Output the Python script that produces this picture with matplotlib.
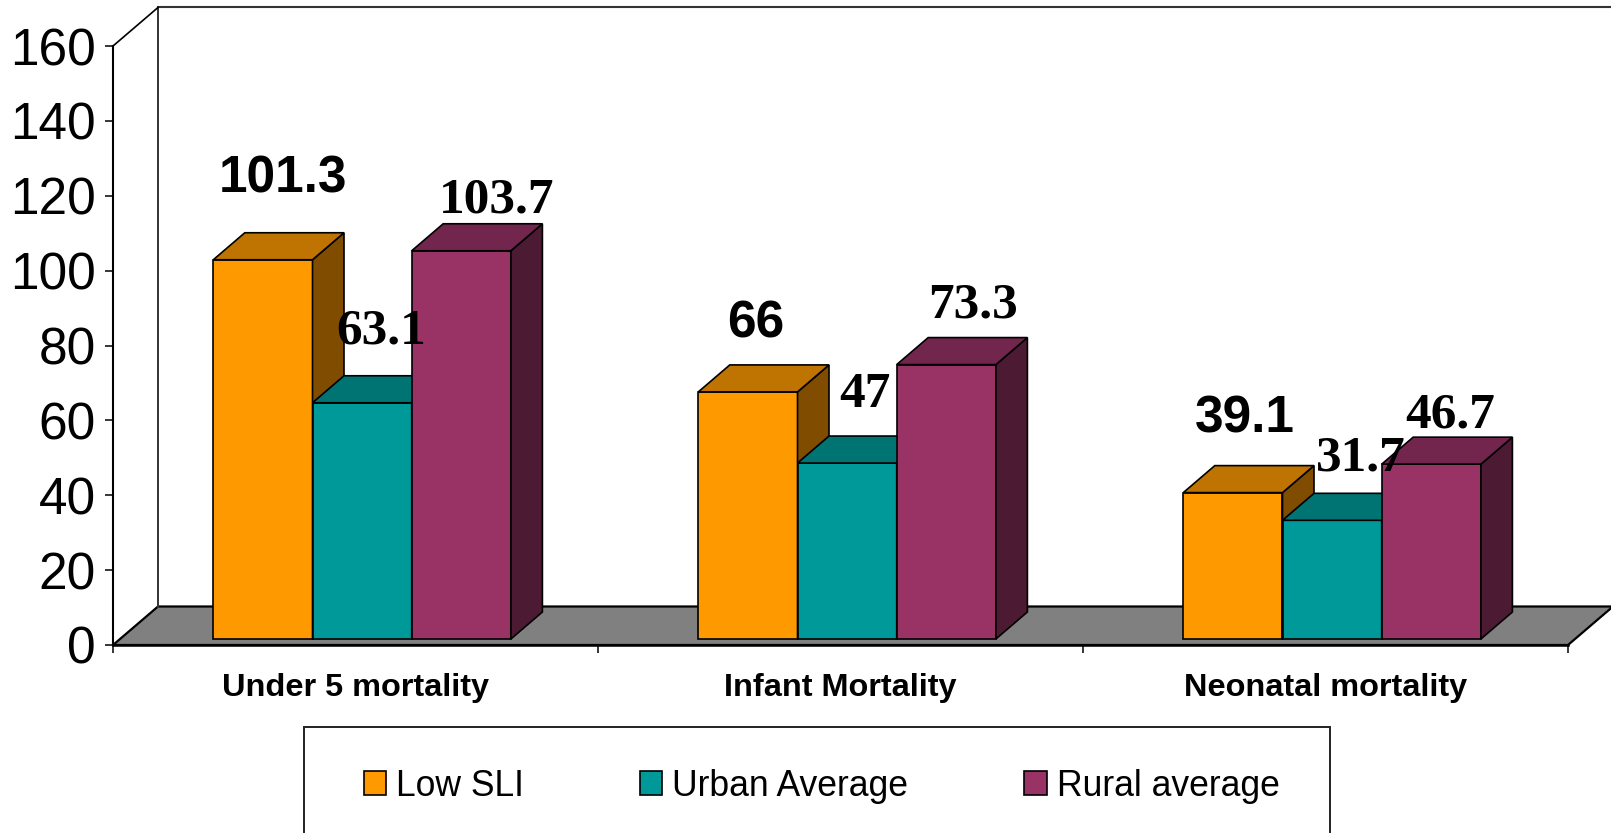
import matplotlib
matplotlib.use('Agg')
import matplotlib.pyplot as plt
from matplotlib.patches import Patch, Rectangle

categories = ['Under 5 mortality', 'Infant Mortality', 'Neonatal mortality']
series_names = ['Low SLI', 'Urban Average', 'Rural average']
low_sli = [101.3, 66, 39.1]
urban_avg = [63.1, 47, 31.7]
rural_avg = [103.7, 73.3, 46.7]
y_ticks = [0, 20, 40, 60, 80, 100, 120, 140, 160]

front = ['#FF9900', '#009999', '#993366']
top = ['#BF7300', '#007373', '#73264D']
side = ['#7F4C00', '#004D4D', '#4D1A33']

# label placement in pixels from the front top centre of each bar
label_dx = [[20, 19, 35], [8, 18, 26.5], [12, 29, 19]]
label_dy = [[67, 59, 38], [54, 56, 47], [60, 50, 37]]
label_bold = [True, False, False]

W, H = 1611, 833
fig = plt.figure(figsize=(W / 100, H / 100), dpi=100)
ax = fig.add_axes([113 / W, 1 - 645 / H, 1455 / W, 599 / H])
ax.set_xlim(0, 3)
ax.set_ylim(0, 160)

# pixels to data units
px_x = 3 / 1455
px_y = 160 / 599

wall_dx, wall_dy = 45 * px_x, 38.5 * px_y
bar_dx, bar_dy = 31.5 * px_x, 27 * px_y
shift_x, shift_y = 6.6 * px_x, 6 * px_y
bar_w = 99.2 * px_x

# walls and floor
ax.fill([0, wall_dx, 3 + wall_dx, 3], [0, wall_dy, wall_dy, 0], fc='#808080', ec='black',
        lw=1.6, clip_on=False, zorder=1)
ax.plot([wall_dx, wall_dx], [160 + wall_dy, wall_dy], c='#333333', lw=1.4, clip_on=False, zorder=1)
ax.plot([wall_dx, 3 + wall_dx], [160 + wall_dy] * 2, c='#333333', lw=1.5, clip_on=False, zorder=1)
ax.plot([0, wall_dx], [160, 160 + wall_dy], c='black', lw=1.2, clip_on=False, zorder=1)

all_series = [low_sli, urban_avg, rural_avg]
z = 2
for i in range(len(categories)):
    for j, vals in enumerate(all_series):
        v = vals[i]
        x0 = i + 0.5 + (j - 1.5) * bar_w + shift_x
        x1 = x0 + bar_w
        y1 = v + shift_y
        ax.bar(x0, v, bar_w, bottom=shift_y, align='edge', color=front[j], edgecolor='black',
               lw=1.2, clip_on=False, zorder=z)
        ax.fill([x1, x1 + bar_dx, x1 + bar_dx, x1],
                [shift_y, shift_y + bar_dy, y1 + bar_dy, y1],
                fc=side[j], ec='black', lw=1.2, clip_on=False, zorder=z)
        ax.fill([x0, x0 + bar_dx, x1 + bar_dx, x1],
                [y1, y1 + bar_dy, y1 + bar_dy, y1],
                fc=top[j], ec='black', lw=1.2, clip_on=False, zorder=z)
        z += 1
        fam = 'Liberation Sans' if label_bold[j] else 'Liberation Serif'
        ax.annotate(str(v), (x0 + bar_w / 2, y1), xytext=(label_dx[i][j], label_dy[i][j]),
                    textcoords='offset pixels', ha='center', va='baseline', family=fam,
                    weight='bold', fontsize=37, color='black', zorder=50, annotation_clip=False)

for s in ['top', 'right']:
    ax.spines[s].set_visible(False)
ax.spines['left'].set_linewidth(1.5)
ax.spines['bottom'].set_linewidth(1.8)
ax.spines['bottom'].set_zorder(40)
ax.patch.set_alpha(0)

ax.set_yticks(y_ticks)
ax.tick_params(axis='y', length=6, width=1.1, pad=6.5)
for t in ax.get_yticklabels():
    t.set_family('Liberation Sans')
    t.set_fontsize(37)

ax.set_xticks([0, 1, 2, 3])
ax.set_xticklabels([])
ax.tick_params(axis='x', which='major', length=6, width=1.1)
ax.set_xticks([0.5, 1.5, 2.5], minor=True)
ax.set_xticklabels(categories, minor=True, family='Liberation Sans', weight='bold', fontsize=23.4)
ax.tick_params(axis='x', which='minor', length=0, pad=20.5)

# legend box runs off the bottom of the figure
fig.add_artist(Rectangle((304 / W, -0.05), 1026 / W, 1 - 727 / H + 0.05, transform=fig.transFigure,
                         fc='white', ec='#222222', lw=1.4))
handles = [Patch(fc=front[k], ec='black', lw=1.2) for k in range(3)]
leg = fig.legend(handles, series_names, loc='center left', bbox_to_anchor=(363.5 / W, 1 - 786 / H),
                 bbox_transform=fig.transFigure, ncol=3, frameon=False,
                 borderpad=0, borderaxespad=0, columnspacing=3.25,
                 handlelength=0.64, handleheight=0.64, handletextpad=0.28,
                 prop={'family': 'Liberation Sans', 'size': 25.6})
leg.set_zorder(5)

fig.savefig('out.png', dpi=100)
